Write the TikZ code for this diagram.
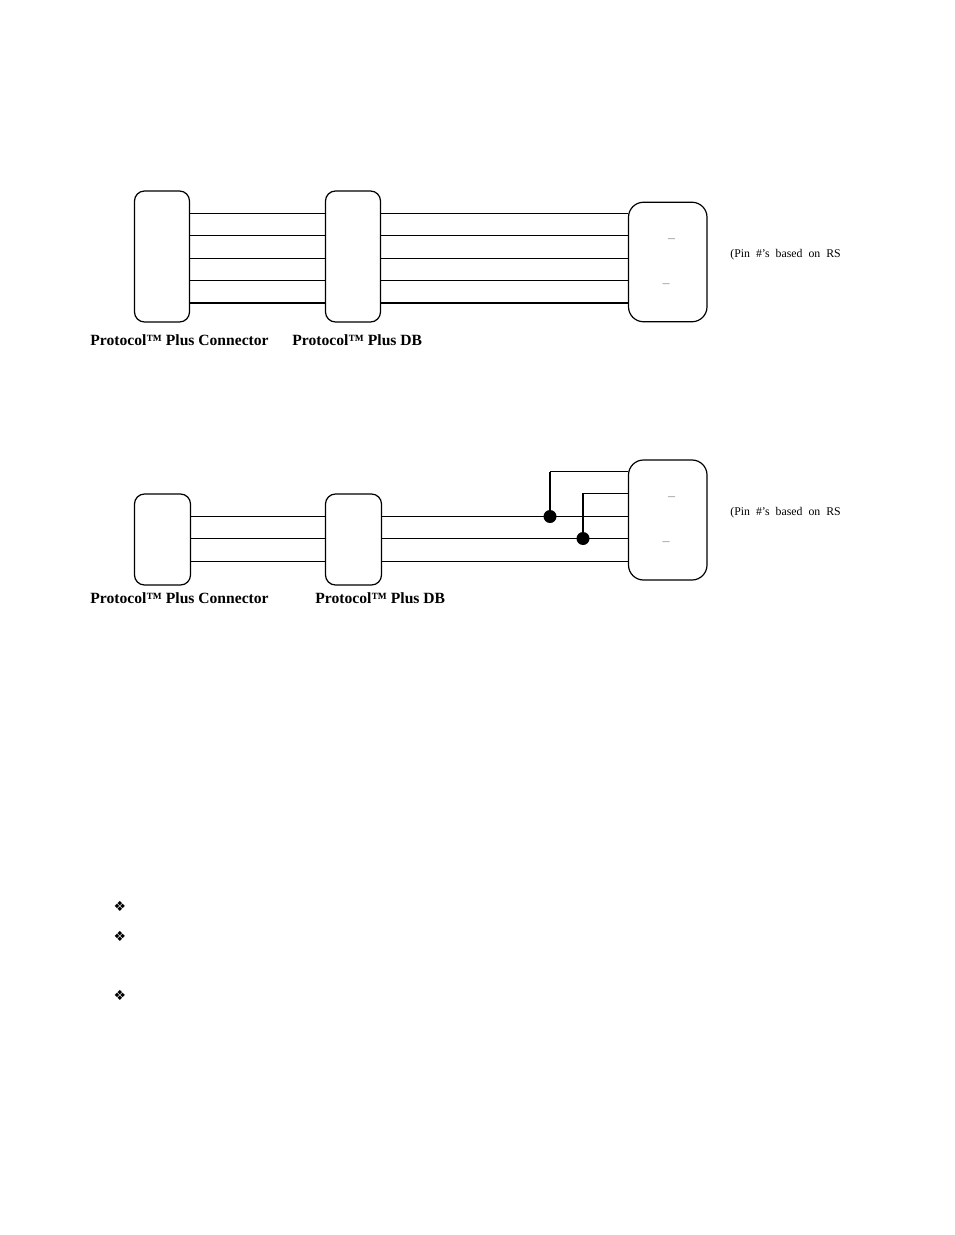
\documentclass[tikz,border=0pt]{standalone}
\usepackage{fontspec}
\setmainfont{Liberation Serif}
\newfontfamily\symfont{DejaVu Sans}
\definecolor{dashgray}{gray}{0.55}
\tikzset{
  conn/.style={draw=black,line width=0.6pt,rounded corners=5pt,minimum width=#1,inner sep=0pt,fill=white},
  wire/.style={line width=0.6pt,black},
  thickwire/.style={line width=1pt,black},
  junction/.style={circle,fill=black,inner sep=0pt,minimum size=6.5pt},
  boxlabel/.style={anchor=west,inner sep=0pt,font=\bfseries\fontsize{7.8}{9}\selectfont},
  pinnote/.style={anchor=west,inner sep=0pt,font=\fontsize{5.9}{7}\selectfont},
  tick/.style={inner sep=0pt,text=dashgray,font=\fontsize{7}{8}\selectfont},
  bulletmark/.style={inner sep=0pt,font=\symfont\fontsize{7}{8}\selectfont}
}
\begin{document}
\begin{tikzpicture}[x=0.5pt,y=-0.5pt]
\path[use as bounding box,fill=white] (0,0) rectangle (954,1235);
% top diagram
\node[conn=27.5pt,minimum height=65.5pt] (a1) at (162,256.5) {};
\node[conn=27.5pt,minimum height=65.5pt] (b1) at (353,256.5) {};
\node[conn=39.25pt,minimum height=59.75pt,rounded corners=7.5pt] (c1) at (667.75,262) {};
\foreach \yy/\st in {213.3/wire,235.5/wire,258.5/wire,280.5/wire,303/thickwire}{
  \draw[\st] (a1.east |- 0,\yy) -- (b1.west |- 0,\yy);
  \draw[\st] (b1.east |- 0,\yy) -- (c1.west |- 0,\yy);
}
\node[tick] (t1) at (671.5,240.5) {–};
\node[tick] (t2) at (666,285.5) {–};
\node[pinnote] (p1) at (730,255) {(Pin\hspace{1.5pt} \#’s\hspace{1.5pt} based\hspace{1.5pt} on\hspace{1.5pt} RS};
\node[boxlabel] (l1) at (90,340) {Protocol™ Plus Connector};
\node[boxlabel] (l2) at (292,340) {Protocol™ Plus DB};
% bottom diagram
\node[conn=28pt,minimum height=45.5pt] (a2) at (162.5,539.5) {};
\node[conn=28pt,minimum height=45.5pt] (b2) at (353.5,539.5) {};
\node[conn=39.25pt,minimum height=60pt,rounded corners=7.5pt] (c2) at (667.75,520) {};
\foreach \yy in {516.5,538.5,561.5}{
  \draw[wire] (a2.east |- 0,\yy) -- (b2.west |- 0,\yy);
  \draw[wire] (b2.east |- 0,\yy) -- (c2.west |- 0,\yy);
}
\node[junction] (j1) at (550,516.5) {};
\node[junction] (j2) at (583,538.5) {};
\draw[wire] (c2.west |- 0,471.5) -- (j1.center |- 0,471.5);
\draw[thickwire] (j1.center |- 0,471.5) -- (j1.center);
\draw[wire] (c2.west |- 0,493.5) -| (j2.center);
\node[tick] (t3) at (671.5,498.5) {–};
\node[tick] (t4) at (666,543.5) {–};
\node[pinnote] (p2) at (730,513) {(Pin\hspace{1.5pt} \#’s\hspace{1.5pt} based\hspace{1.5pt} on\hspace{1.5pt} RS};
\node[boxlabel] (l3) at (90,598) {Protocol™ Plus Connector};
\node[boxlabel] (l4) at (315,598) {Protocol™ Plus DB};
% bullets
\node[bulletmark] (b01) at (120,906) {❖};
\node[bulletmark] (b02) at (120,936) {❖};
\node[bulletmark] (b03) at (120,995) {❖};
\end{tikzpicture}
\end{document}
